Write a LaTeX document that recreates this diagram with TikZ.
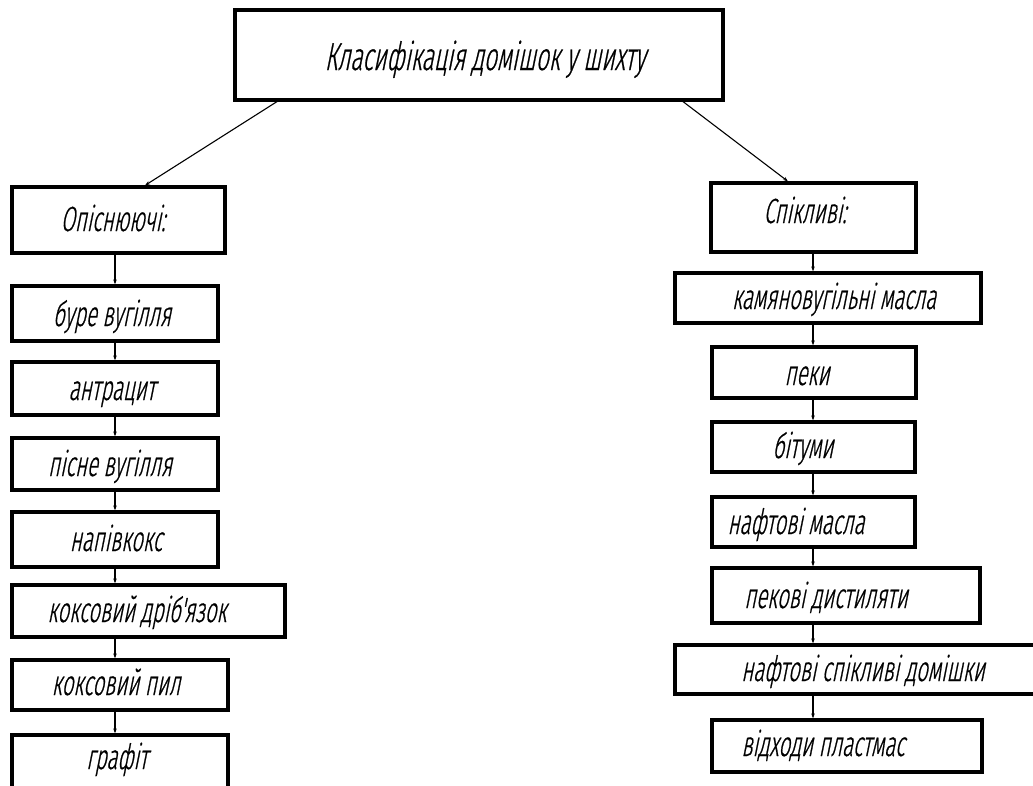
\documentclass[tikz,border=0pt]{standalone}
\usepackage{fontspec}
\newfontfamily\gost[FakeSlant=0.2,FakeStretch=0.58,FakeBold=0.6]{Fira Sans Light}
\usetikzlibrary{arrows.meta}
\tikzset{
  box/.style={draw=black, line width=3.2pt, inner sep=0pt},
  lbl/.style={inner sep=0pt, anchor=base, font=\gost\fontsize{35}{35}\selectfont},
  ttl/.style={inner sep=0pt, anchor=base, font=\gost\fontsize{39}{39}\selectfont},
  conn/.style={draw=black, line width=1.1pt, -{Stealth[length=5pt,width=3.5pt]}},
}
\newcommand{\bx}[5]{% name, x1, y1, x2, y2
  \node[box, minimum width={(#4-#2)*1pt}, minimum height={(#5-#3)*1pt}] (#1) at ({(#2+#4)/2},{(#3+#5)/2}) {};}
\begin{document}
\begin{tikzpicture}[x=1pt,y=-1pt]
\useasboundingbox (0,0) rectangle (1033,785);
\fill[white] (0,0) rectangle (1033,785);
% top
\bx{top}{235}{10}{723}{100}
\node[ttl] (ttop) at (485,70) {Класифікація домішок у шихту};
% left column
\bx{L0}{12}{187}{225}{253}
\node[lbl] (tL0) at (113,231) {Опіснюючі:};
\bx{L1}{12}{286}{218}{341}
\node[lbl] (tL1) at (112,326) {буре вугілля};
\bx{L2}{12}{362}{218}{415}
\node[lbl] (tL2) at (112,400) {антрацит};
\bx{L3}{12}{438}{218}{490}
\node[lbl] (tL3) at (110,476) {пісне вугілля};
\bx{L4}{12}{512}{218}{567}
\node[lbl] (tL4) at (116,551) {напівкокс};
\bx{L5}{12}{585}{285}{637}
\node[lbl] (tL5) at (137,622) {коксовий дріб'язок};
\bx{L6}{12}{660}{228}{710}
\node[lbl] (tL6) at (116,695) {коксовий пил};
\bx{L7}{12}{735}{228}{790}
\node[lbl] (tL7) at (117,769) {графіт};
% right column
\bx{R0}{711}{183}{916}{252}
\node[lbl] (tR0) at (805,223) {Спікливі:};
\bx{R1}{675}{273}{981}{323}
\node[lbl] (tR1) at (834,309) {камяновугільні масла};
\bx{R2}{712}{347}{916}{398}
\node[lbl] (tR2) at (807,385) {пеки};
\bx{R3}{712}{422}{915}{472}
\node[lbl] (tR3) at (803,458) {бітуми};
\bx{R4}{712}{497}{915}{547}
\node[lbl] (tR4) at (796,534) {нафтові масла};
\bx{R5}{712}{568}{980}{623}
\node[lbl] (tR5) at (826,608) {пекові дистиляти};
\bx{R6}{675}{645}{1045}{694}
\node[lbl] (tR6) at (863,681) {нафтові спікливі домішки};
\bx{R7}{712}{720}{982}{772}
\node[lbl] (tR7) at (823,756) {відходи пластмас};
% connectors
\draw[conn] (top.south west -| 277,0) -- (L0.north -| 145,0);
\draw[conn] (top.south west -| 683,0) -- (R0.north -| 788,0);
\foreach \a/\b in {L0/L1,L1/L2,L2/L3,L3/L4,L4/L5,L5/L6,L6/L7}{
  \draw[conn] (\a.south -| 115,0) -- (\b.north -| 115,0);
}
\foreach \a/\b in {R0/R1,R1/R2,R2/R3,R3/R4,R4/R5,R5/R6,R6/R7}{
  \draw[conn] (\a.south -| 813,0) -- (\b.north -| 813,0);
}
\end{tikzpicture}
\end{document}
